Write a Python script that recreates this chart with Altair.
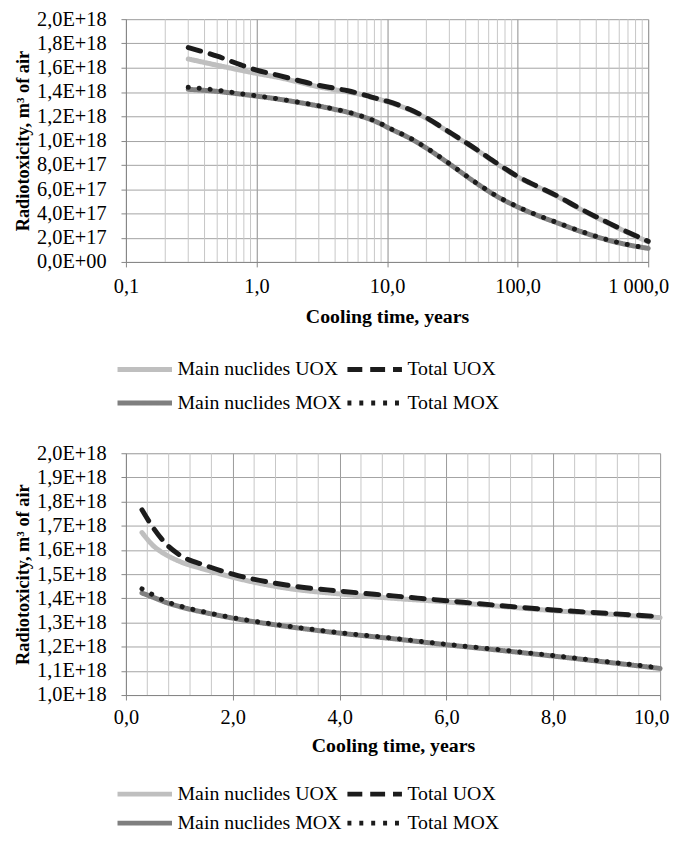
import altair as alt
import pandas as pd

# ---- data (values in units of 1E+18 m3 of air) ----
years = [0.3, 0.5, 0.75, 1.0, 1.5, 2.0, 3.0, 4.0, 5.0, 6.0, 7.0, 8.0, 9.0, 10.0,
         15.0, 20.0, 30.0, 50.0, 70.0, 100.0, 150.0, 200.0, 300.0, 500.0, 700.0, 1000.0]
main_uox = [1.672, 1.620, 1.580, 1.553, 1.518, 1.487, 1.442, 1.418, 1.400, 1.385, 1.367, 1.349, 1.335, 1.320,
            1.251, 1.184, 1.066, 0.913, 0.806, 0.701, 0.606, 0.541, 0.436, 0.316, 0.241, 0.166]
total_uox = [1.766, 1.695, 1.625, 1.580, 1.535, 1.500, 1.455, 1.430, 1.410, 1.390, 1.370, 1.352, 1.338, 1.324,
             1.255, 1.188, 1.070, 0.917, 0.810, 0.705, 0.610, 0.545, 0.440, 0.320, 0.245, 0.170]
main_mox = [1.422, 1.405, 1.383, 1.366, 1.340, 1.318, 1.284, 1.256, 1.233, 1.208, 1.185, 1.161, 1.136, 1.110,
            1.018, 0.938, 0.808, 0.638, 0.538, 0.453, 0.373, 0.323, 0.253, 0.178, 0.141, 0.112]
total_mox = [1.439, 1.415, 1.387, 1.369, 1.342, 1.320, 1.286, 1.258, 1.235, 1.210, 1.187, 1.163, 1.138, 1.112,
             1.020, 0.940, 0.810, 0.640, 0.540, 0.455, 0.375, 0.325, 0.255, 0.180, 0.143, 0.114]

# legend order (the legend grid is filled column by column)
series_names = ["Main nuclides UOX", "Main nuclides MOX", "Total UOX", "Total MOX"]
series_values = [main_uox, main_mox, total_uox, total_mox]

top_x_ticks = [0.1, 1, 10, 100, 1000]
top_y_ticks = [0, 0.2e18, 0.4e18, 0.6e18, 0.8e18, 1.0e18, 1.2e18, 1.4e18, 1.6e18, 1.8e18, 2.0e18]
top_minor = [m * 10.0 ** k for k in (-1, 0, 1, 2) for m in range(2, 10)]
bottom_x_ticks = [0, 2, 4, 6, 8, 10]
bottom_y_ticks = [1.0e18, 1.1e18, 1.2e18, 1.3e18, 1.4e18, 1.5e18, 1.6e18, 1.7e18, 1.8e18, 1.9e18, 2.0e18]
bottom_minor = [round(i * 0.4, 1) for i in range(1, 25) if i % 5 != 0]

# ---- styles ----
FONT = "Liberation Serif"
FS = 20.5
LFS = 20
series_colors = ["#bfbfbf", "#7f7f7f", "#1c1c1c", "#1c1c1c"]
plot_dash = [[1, 0], [1, 0], [13, 10], [0.1, 11]]
key_dash = [[1, 0], [1, 0], [15, 8], [4, 8]]

rows = []
for name, vals in zip(series_names, series_values):
    for t, v in zip(years, vals):
        rows.append({"t": t, "v": v * 1e18, "s": name})
df = pd.DataFrame(rows)
df_bottom = df[df["t"] <= 10]
df_key = df.groupby("s", sort=False).head(1)

y_label_expr = "datum.value == 0 ? '0,0E+00' : replace(upper(format(datum.value, '.1e')), '.', ',')"


def legend(legend_y, row_pad):
    # line symbol 55 px long inside a 20 px symbol box (keeps rows compact)
    return alt.Legend(
        title=None, orient="none", legendX=-11, legendY=legend_y, columns=2,
        symbolType="M-1,0H4.5", symbolSize=400, symbolStrokeWidth=5,
        labelFont=FONT, labelFontSize=LFS, labelColor="#000000", labelLimit=400,
        labelOffset=38, padding=0, rowPadding=row_pad, columnPadding=-5,
    )


def panel(data, minor, xscale, xaxis, yscale, yaxis, w, h, leg):
    grid = alt.Chart(pd.DataFrame({"t": minor})).mark_rule(
        color="#c6c6c6", strokeWidth=1
    ).encode(x=alt.X("t:Q", scale=xscale, axis=xaxis))
    lines = alt.Chart(data).mark_line(
        strokeWidth=5, strokeCap="round", interpolate="monotone"
    ).encode(
        x=alt.X("t:Q", scale=xscale, axis=xaxis),
        y=alt.Y("v:Q", scale=yscale, axis=yaxis),
        color=alt.Color("s:N", scale=alt.Scale(domain=series_names, range=series_colors), legend=None),
        strokeDash=alt.StrokeDash("s:N", scale=alt.Scale(domain=series_names, range=plot_dash), legend=None),
    )
    # single point per series: draws nothing, only carries the legend
    key = alt.Chart(df_key).mark_line(strokeWidth=5, strokeCap="butt").encode(
        x=alt.X("t:Q", scale=xscale, axis=xaxis),
        y=alt.Y("v:Q", scale=yscale, axis=yaxis),
        color=alt.Color("s:N", scale=alt.Scale(domain=series_names, range=series_colors), legend=leg),
        strokeDash=alt.StrokeDash("s:N", scale=alt.Scale(domain=series_names, range=key_dash), legend=leg),
    )
    return alt.layer(grid, lines, key).resolve_scale(
        color="independent", strokeDash="independent"
    ).properties(width=w, height=h)


common_axis = dict(
    labelFont=FONT, labelFontSize=FS, labelColor="#000000", labelFlush=False,
    titleFont=FONT, titleFontWeight="bold", titleColor="#000000",
    domainColor="#868686", tickColor="#868686", tickSize=5,
)

top = panel(
    df, top_minor,
    alt.Scale(type="log", domain=[0.1, 1000], nice=False),
    alt.Axis(values=top_x_ticks, title="Cooling time, years", gridColor="#8c8c8c",
             labelExpr="replace(replace(format(datum.value, ',.1f'), ',', ' '), '.', ',')",
             labelOffset={"condition": {"test": "datum.value == 1000", "value": -10}, "value": 0},
             labelPadding=10, titlePadding=9.5, titleFontSize=20, **common_axis),
    alt.Scale(domain=[0, 2e18], nice=False),
    alt.Axis(values=top_y_ticks, title="Radiotoxicity, m³ of air", gridColor="#a3a3a3",
             labelExpr=y_label_expr, labelPadding=15, titlePadding=4, titleFontSize=18.5, **common_axis),
    527, 245, legend(340.75, 11),
)

bottom = panel(
    df_bottom, bottom_minor,
    alt.Scale(domain=[0, 10], nice=False),
    alt.Axis(values=bottom_x_ticks, title="Cooling time, years", gridColor="#9a9a9a",
             labelExpr="replace(format(datum.value, '.1f'), '.', ',')",
             labelOffset={"condition": {"test": "datum.value == 10", "value": -9}, "value": 0},
             labelPadding=8, titlePadding=7.5, titleFontSize=20, **common_axis),
    alt.Scale(domain=[1e18, 2e18], nice=False),
    alt.Axis(values=bottom_y_ticks, title="Radiotoxicity, m³ of air", gridColor="#a3a3a3",
             labelExpr=y_label_expr, labelPadding=15, titlePadding=4, titleFontSize=18.5, **common_axis),
    539, 244, legend(331.25, 6.5),
)

chart = alt.vconcat(top, bottom, spacing=28).resolve_scale(
    color="independent", strokeDash="independent"
).resolve_legend(
    color="independent", strokeDash="independent"
).properties(
    padding={"left": 5, "top": -3.5, "right": 0, "bottom": 0}
).configure_view(stroke=None).configure(background="#ffffff")

chart.save("out.html", embed_options={"renderer": "svg", "actions": False})
